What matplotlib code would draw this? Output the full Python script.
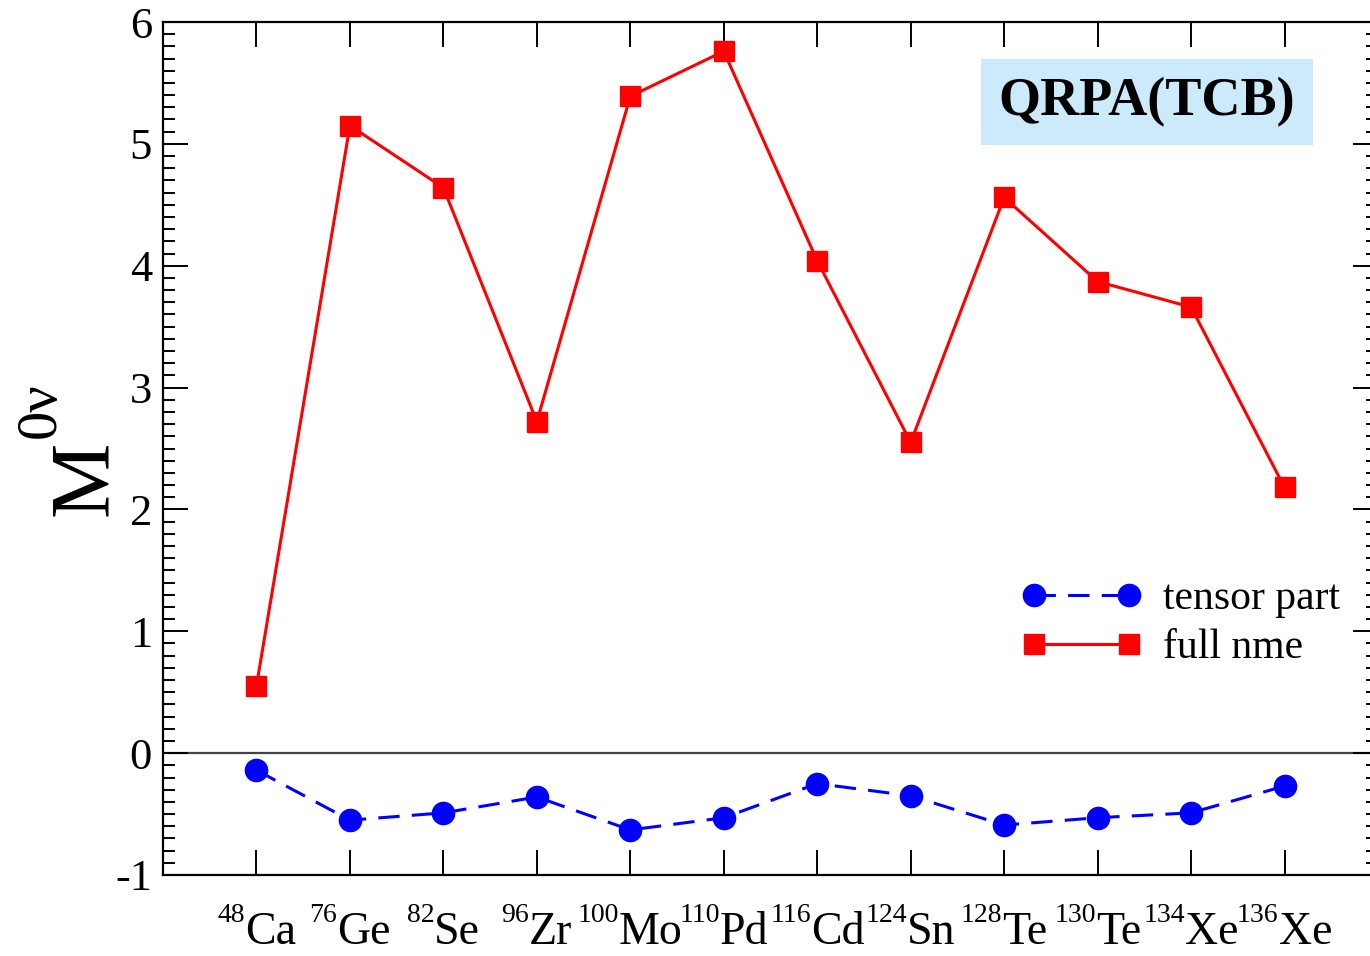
import numpy as np
import matplotlib
matplotlib.use("Agg")
import matplotlib.pyplot as plt
from matplotlib.ticker import MultipleLocator

plt.rcParams["font.family"] = ["Liberation Serif", "DejaVu Serif"]
plt.rcParams["axes.unicode_minus"] = False

# nuclei (mass number, element)
masses = ["48", "76", "82", "96", "100", "110", "116", "124", "128", "130", "134", "136"]
symbols = ["Ca", "Ge", "Se", "Zr", "Mo", "Pd", "Cd", "Sn", "Te", "Te", "Xe", "Xe"]

full_nme = [0.55, 5.15, 4.64, 2.72, 5.39, 5.76, 4.04, 2.55, 4.56, 3.87, 3.66, 2.18]
tensor_part = [-0.14, -0.55, -0.49, -0.36, -0.63, -0.53, -0.25, -0.35, -0.59, -0.53, -0.49, -0.27]

x = np.arange(1, len(masses) + 1)

W, H = 1370, 956
fig = plt.figure(figsize=(W / 100, H / 100), dpi=100)
ax = fig.add_axes([163 / W, 1 - 875 / H, (1378 - 163) / W, (875 - 22) / H])

ax.axhline(0, color="#444444", lw=1.6, zorder=1)
ax.plot(x, tensor_part, color="#0000ff", lw=2.2, dashes=(7, 4), marker="o", ms=16,
        label="tensor part", zorder=3)
ax.plot(x, full_nme, color="#ff0000", lw=2.2, marker="s", ms=14, label="full nme", zorder=3)

ax.set_xlim(0, 13)
ax.set_ylim(-1, 6)
ax.set_xticks(x)
ax.set_xticklabels([""] * len(x))
ax.set_yticks(range(-1, 7))
ax.yaxis.set_minor_locator(MultipleLocator(0.1))
ax.tick_params(which="both", direction="in", top=True, right=True, width=1.4, labelsize=32)
ax.tick_params(which="major", length=18, pad=8)
ax.tick_params(which="minor", length=8.5)
for sp in ax.spines.values():
    sp.set_linewidth(1.6)

# element labels with raised mass numbers, centred under each tick
renderer = fig.canvas.get_renderer()
trans = ax.get_xaxis_transform()
for xi, m, s in zip(x, masses, symbols):
    big = ax.annotate(s, (xi, 0), xycoords=trans, xytext=(0, -50), textcoords="offset points",
                      ha="left", va="baseline", fontsize=33, annotation_clip=False)
    small = ax.annotate(m, (xi, 0), xycoords=trans, xytext=(0, -34), textcoords="offset points",
                        ha="right", va="baseline", fontsize=20, annotation_clip=False)
    wb = big.get_window_extent(renderer).width * 72 / fig.dpi
    ws = small.get_window_extent(renderer).width * 72 / fig.dpi
    shift = (ws - wb) / 2
    big.xyann = (shift, -50)
    small.xyann = (shift, -34)

# y label M^{0nu}: drawn as two rotated pieces (anchor = baseline centre, pixel coords)
fig.text(107 / W, 1 - 478 / H, "M", rotation=90, rotation_mode="anchor",
         ha="center", va="baseline", fontsize=61)
fig.text(55 / W, 1 - 410 / H, "0ν", rotation=90, rotation_mode="anchor",
         ha="center", va="baseline", fontsize=42)

ax.text(1147 / W, 1 - 102 / H, "QRPA(TCB)", transform=fig.transFigure, fontsize=39,
        fontweight="bold", ha="center", va="center",
        bbox=dict(boxstyle="square,pad=0.33", fc="#cceaf9", ec="none"))

ax.legend(loc="upper left", bbox_to_anchor=((1021 - 163) / 1215, (875 - 580) / 853),
          frameon=False, fontsize=30, numpoints=2, handlelength=2.9, handletextpad=0.5,
          borderpad=0, borderaxespad=0, labelspacing=0.25)

fig.savefig("out.png", dpi=100)
